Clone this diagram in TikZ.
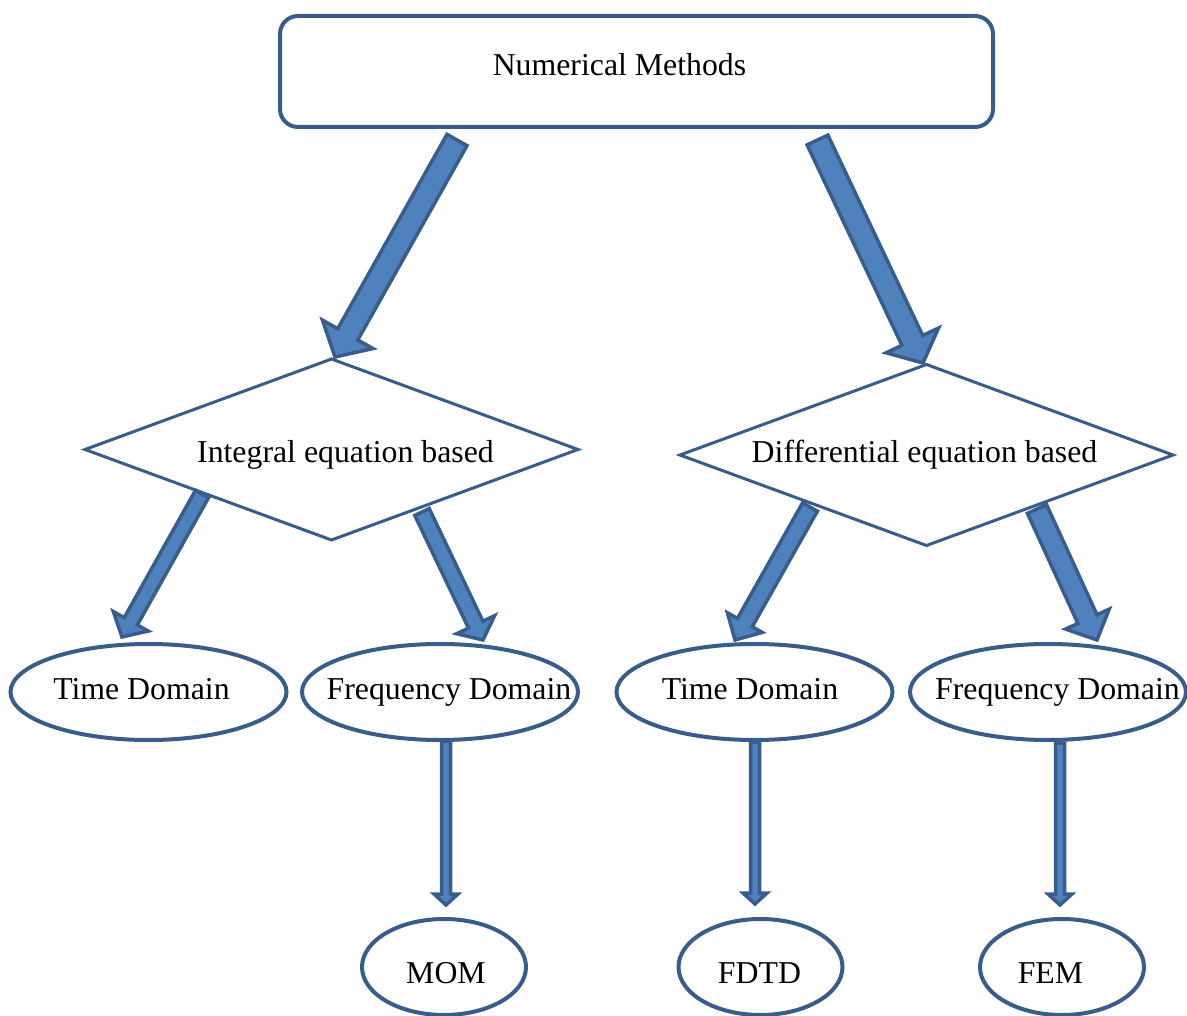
\documentclass[tikz,border=0pt]{standalone}
\usepackage{fontspec}
\setmainfont{Liberation Serif}
\usetikzlibrary{shapes.geometric,calc}
\definecolor{edgeblue}{RGB}{56,93,138}
\definecolor{fillblue}{RGB}{79,129,189}
\newcommand\blockarr[6][barrow]{%
  \path ($(#3)!#6!(#2)$) coordinate (bh);
  \filldraw[#1] ($(#2)!#4!90:(#3)$) -- ($(bh)!#4!90:(#3)$) -- ($(bh)!#5!90:(#3)$) -- (#3)
    -- ($(bh)!#5!-90:(#3)$) -- ($(bh)!#4!-90:(#3)$) -- ($(#2)!#4!-90:(#3)$) -- cycle;}
\begin{document}
\begin{tikzpicture}[x=1pt,y=-1pt,
  lbl/.style={font=\fontsize{31.8}{36}\selectfont, anchor=base, inner sep=0pt},
  topbox/.style={draw=edgeblue, line width=4pt, rounded corners=18pt, minimum width=713pt, minimum height=111pt, inner sep=0pt, outer sep=0pt},
  dia/.style={diamond, draw=edgeblue, line width=3pt, minimum width=493pt, minimum height=181pt, inner sep=0pt, outer sep=0pt},
  ell/.style={ellipse, draw=edgeblue, line width=4pt, minimum width=276pt, minimum height=96pt, inner sep=0pt, outer sep=0pt},
  smallell/.style={ellipse, draw=edgeblue, line width=4pt, minimum width=164pt, minimum height=96pt, inner sep=0pt, outer sep=0pt},
  barrow/.style={draw=edgeblue, fill=fillblue, line width=3.5pt},
  varrow/.style={draw=edgeblue, fill=fillblue, line width=3.5pt}]
\useasboundingbox (0,0) rectangle (1187,1016);
% shapes
\node[topbox] (nm) at (636.5,71.5) {};
\node[dia] (ie) at (331.5,449.5) {};
\node[dia] (de) at (926.5,455) {};
\node[ell] (td1) at (148.5,692) {};
\node[ell] (fd1) at (440,692) {};
\node[ell] (td2) at (754.5,692) {};
\node[ell] (fd2) at (1048,692) {};
\node[smallell] (mom) at (444,967) {};
\node[smallell] (fdtd) at (760.5,967) {};
\node[smallell] (fem) at (1062,967) {};
% labels
\node[lbl] (nmt) at (619.5,76) {Numerical Methods};
\node[lbl] (iet) at (345.5,462) {Integral equation based};
\node[lbl] (det) at (924.5,462) {Differential equation based};
\node[lbl] (td1t) at (141.5,699) {Time Domain};
\node[lbl] (fd1t) at (449,699) {Frequency Domain};
\node[lbl] (td2t) at (750,699) {Time Domain};
\node[lbl] (fd2t) at (1057.5,699) {Frequency Domain};
\node[lbl] (momt) at (446,983) {MOM};
\node[lbl] (fdtdt) at (759.5,983) {FDTD};
\node[lbl] (femt) at (1050.5,983) {FEM};
% connector ends
\coordinate (a1s) at (457,140);
\coordinate (a1e) at (335,357);
\coordinate (a2s) at (817.5,140);
\coordinate (a2e) at (923,363);
\coordinate (a3s) at (202,494);
\coordinate (a3e) at (122,637);
\coordinate (a4s) at (422,512);
\coordinate (a4e) at (483,640);
\coordinate (a5s) at (810,507);
\coordinate (a5e) at (735,640);
\coordinate (a6s) at (1037,509);
\coordinate (a6e) at (1097,640);
\coordinate (v1s) at (446,741);
\coordinate (v1e) at (446,905);
\coordinate (v2s) at (755,742);
\coordinate (v2e) at (755,904);
\coordinate (v3s) at (1060,743);
\coordinate (v3e) at (1060,905);
% block arrows
\blockarr{a1s}{a1e}{11.5pt}{29pt}{26pt}
\blockarr{a2s}{a2e}{11.5pt}{29pt}{25pt}
\blockarr{a3s}{a3e}{7.5pt}{20pt}{18pt}
\blockarr{a4s}{a4e}{8pt}{21pt}{17pt}
\blockarr{a5s}{a5e}{8.5pt}{20pt}{20pt}
\blockarr{a6s}{a6e}{10.5pt}{24pt}{23pt}
\blockarr[varrow]{v1s}{v1e}{4.5pt}{12pt}{11pt}
\blockarr[varrow]{v2s}{v2e}{4.5pt}{12pt}{11pt}
\blockarr[varrow]{v3s}{v3e}{4.5pt}{12pt}{11pt}
\end{tikzpicture}
\end{document}
